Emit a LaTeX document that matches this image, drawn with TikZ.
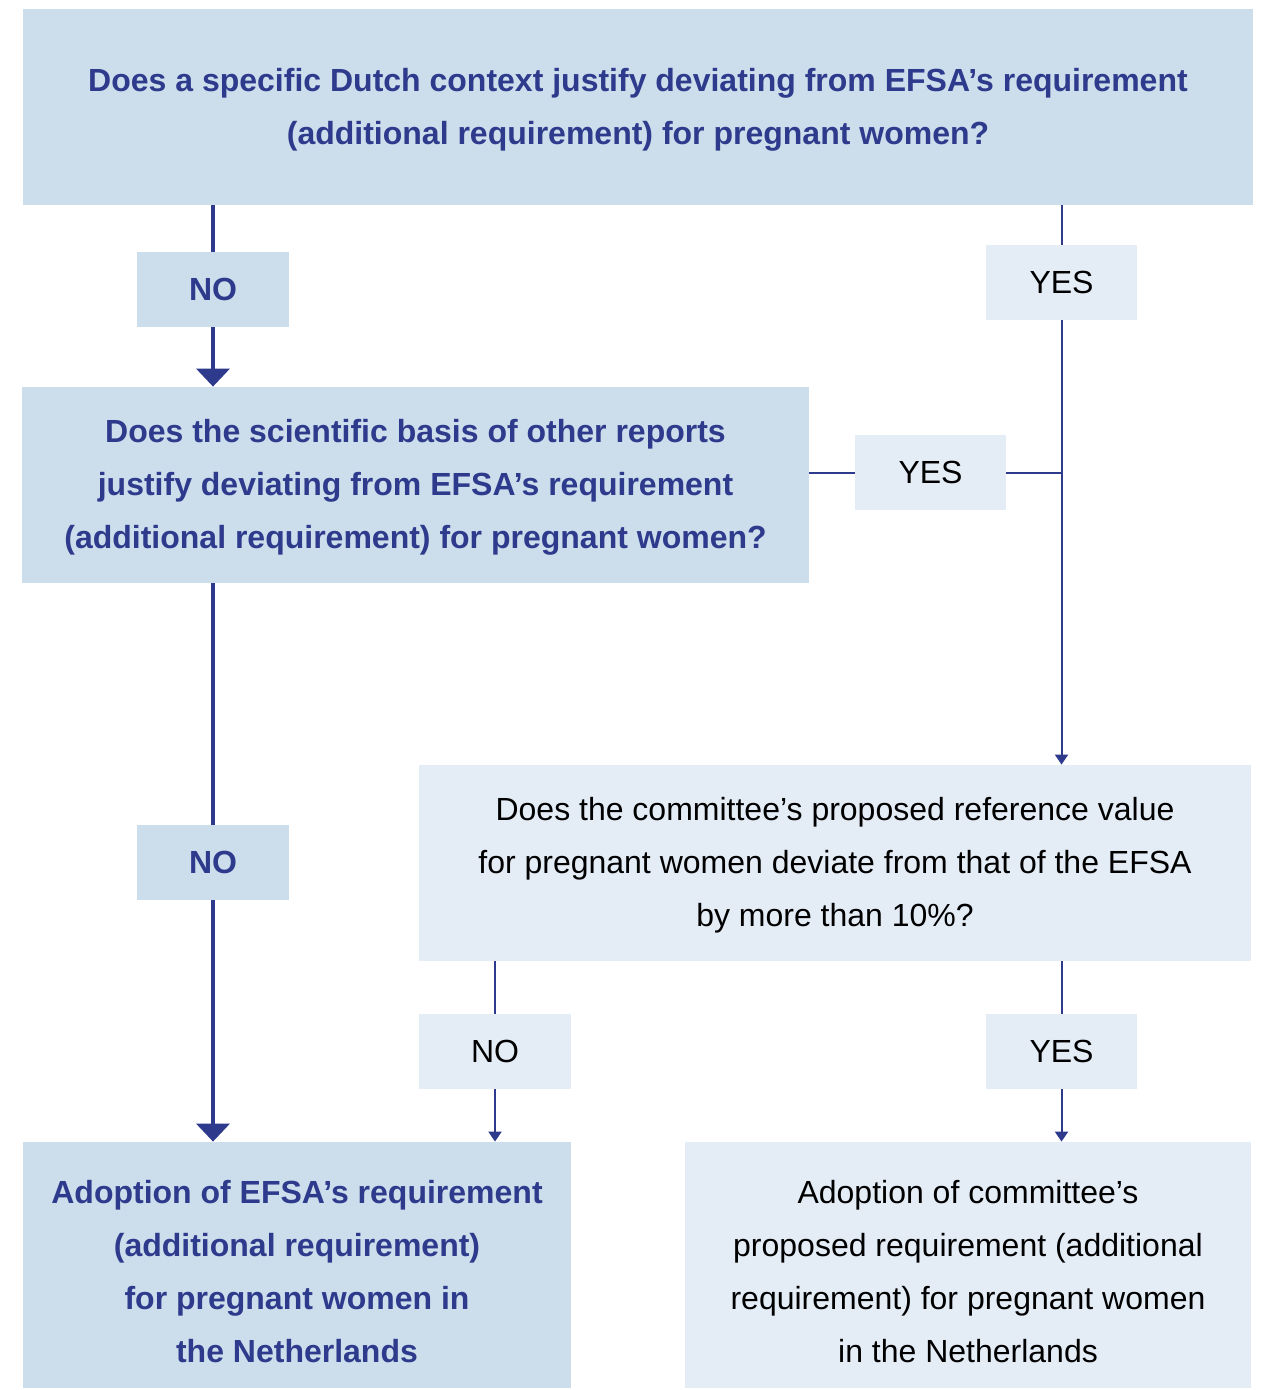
\documentclass[tikz,border=0pt]{standalone}
\usepackage{fontspec}
\setmainfont{Liberation Sans}
\usetikzlibrary{arrows.meta}

\definecolor{efsablue}{HTML}{2E3A8C}
\definecolor{darkfill}{HTML}{CCDDEC}
\definecolor{lightfill}{HTML}{E4ECF6}

% struts to keep the text of the big boxes at the same height
\newcommand{\lowstrut}{\rule{0pt}{25.5pt}}

\tikzset{
  darkbox/.style={fill=darkfill, inner sep=0pt, align=center, text=efsablue,
    font=\fontsize{16}{26.5}\selectfont\bfseries},
  lightbox/.style={fill=lightfill, inner sep=0pt, align=center, text=black,
    font=\fontsize{16}{26.5}\selectfont},
  thickline/.style={draw=efsablue, line width=2pt},
  thinline/.style={draw=efsablue, line width=1pt},
  bigtip/.style={-{Triangle[width=16.5pt,length=9pt]}},
  smalltip/.style={-{Triangle[width=6.5pt,length=5pt]}}
}

\begin{document}
\begin{tikzpicture}[x=0.5pt,y=-0.5pt]
\useasboundingbox (0,0) rectangle (1261,1390);

% questions
\node[darkbox, minimum width=615pt, minimum height=98pt] (q1) at (638,107)
  {\strut Does a specific Dutch context justify deviating from EFSA’s requirement\\(additional requirement) for pregnant women?\strut};
\node[darkbox, minimum width=393.5pt, minimum height=98pt] (q2) at (415.5,485)
  {\strut Does the scientific basis of other reports\\justify deviating from EFSA’s requirement\\(additional requirement) for pregnant women?\strut};
\node[lightbox, minimum width=416pt, minimum height=98pt] (q3) at (835,863)
  {\strut Does the committee’s proposed reference value\\for pregnant women deviate from that of the EFSA\\by more than 10\%?\strut};

% outcomes
\node[darkbox, minimum width=274pt, minimum height=123pt] (res1) at (297,1265)
  {\lowstrut Adoption of EFSA’s requirement\\(additional requirement)\\for pregnant women in\\the Netherlands\strut};
\node[lightbox, minimum width=283pt, minimum height=123pt] (res2) at (968,1265)
  {\lowstrut Adoption of committee’s\\proposed requirement (additional\\requirement) for pregnant women\\in the Netherlands\strut};

% answers
\node[darkbox, minimum width=76pt, minimum height=37.5pt] (no1) at (213,289.5) {NO};
\node[darkbox, minimum width=76pt, minimum height=37.5pt] (no2) at (213,862.5) {NO};
\node[lightbox, minimum width=76pt, minimum height=37.5pt] (no3) at (495,1051.5) {NO};
\node[lightbox, minimum width=75.5pt, minimum height=37.5pt] (yes1) at (1061.5,282.5) {YES};
\node[lightbox, minimum width=75.5pt, minimum height=37.5pt] (yes2) at (930.5,472.5) {YES};
\node[lightbox, minimum width=75.5pt, minimum height=37.5pt] (yes3) at (1061.5,1051.5) {YES};

\draw[thickline] (no1 |- q1.south) -- (no1.north);
\draw[thickline, bigtip] (no1.south) -- (q2.north -| no1);
\draw[thickline] (no2 |- q2.south) -- (no2.north);
\draw[thickline, bigtip] (no2.south) -- (res1.north -| no2);

\draw[thinline] (yes1 |- q1.south) -- (yes1.north);
\draw[thinline, smalltip] (yes1.south) -- (q3.north -| yes1);
\draw[thinline] (yes2.west -| q2.east) -- (yes2.west);
\draw[thinline] (yes2.east) -- (yes2.east -| yes1);

\draw[thinline] (no3 |- q3.south) -- (no3.north);
\draw[thinline, smalltip] (no3.south) -- (res1.north -| no3);
\draw[thinline] (yes3 |- q3.south) -- (yes3.north);
\draw[thinline, smalltip] (yes3.south) -- (res2.north -| yes3);
\end{tikzpicture}
\end{document}
